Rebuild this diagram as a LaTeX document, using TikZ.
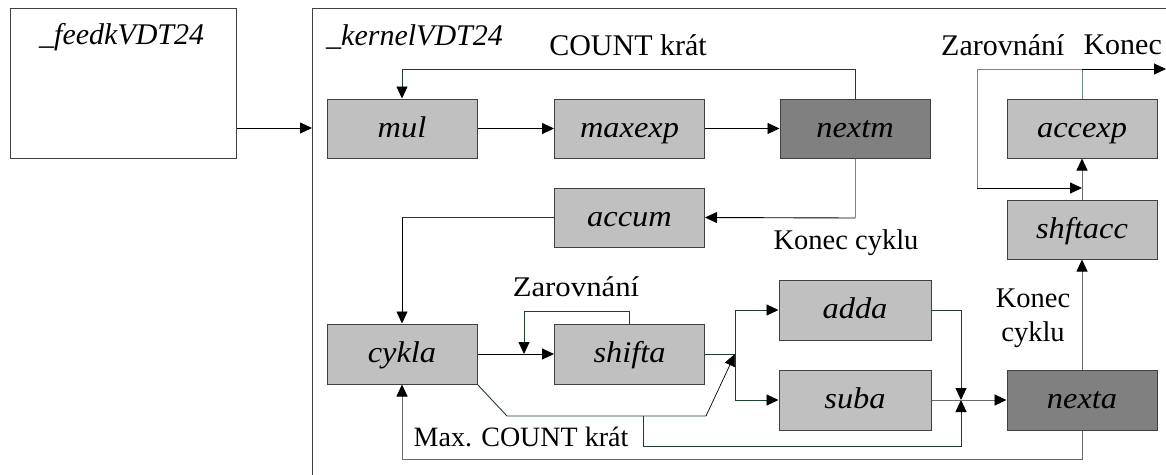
\documentclass[tikz,border=0pt]{standalone}
\usepackage{fontspec}
\setmainfont{Liberation Serif}
\newfontfamily\widefont[FakeStretch=1.08]{Liberation Serif}
\usetikzlibrary{arrows.meta}
\definecolor{boxline}{HTML}{404040}
\definecolor{lightfill}{HTML}{C0C0C0}
\definecolor{darkfill}{HTML}{808080}
\definecolor{darkgreen}{HTML}{1E3F2A}
\definecolor{sage}{HTML}{6F8F7D}
\definecolor{wire}{HTML}{6A6A6A}
\tikzset{
  block/.style={draw=boxline, line width=1pt, fill=lightfill, minimum width=150pt,
    minimum height=59pt, inner sep=0pt, text height=19pt, text depth=2pt,
    font=\widefont\fontsize{30}{32}\selectfont\itshape},
  hotblock/.style={block, fill=darkfill},
  lbl/.style={inner sep=0pt, font=\fontsize{28.5}{34}\selectfont},
  biglbl/.style={inner sep=0pt, font=\fontsize{30}{32}\selectfont},
  title/.style={inner sep=0pt, anchor=west, font=\fontsize{30}{32}\selectfont\itshape},
  link/.style={line width=0.9pt},
  tip/.style={-{Triangle[length=12pt,width=11pt,color=black]}},
}
\begin{document}
\begin{tikzpicture}[x=1pt, y=-1pt]
\useasboundingbox (0,0) rectangle (1166,474);
\clip (0,0) rectangle (1166,474);
\fill[white] (0,0) rectangle (1166,474);

% outer frames
\node[draw=boxline, line width=1pt, minimum width=226pt, minimum height=150pt, inner sep=0pt] (feed) at (123,83) {};
\draw[boxline, line width=1pt] (312,490) -- (312,8) -- (1180,8);
\coordinate (kin) at (312,128);
\node[title] (feedlbl) at (39,37) {\_feedkVDT24};
\node[title] (kernlbl) at (326,37) {\_kernelVDT24};

% blocks
\node[block] (mul) at (402,128.5) {mul};
\node[block] (maxexp) at (629.5,128.5) {maxexp};
\node[hotblock] (nextm) at (855,128.5) {nextm};
\node[block] (accexp) at (1082,128.5) {accexp};
\node[block] (accum) at (629.5,217.5) {accum};
\node[block] (shftacc) at (1082,229.5) {shftacc};
\node[block, minimum height=60pt] (cykla) at (402,354) {cykla};
\node[block, minimum height=60pt] (shifta) at (629.5,354) {shifta};
\node[block, minimum width=152pt, minimum height=60pt] (adda) at (855,310) {adda};
\node[block, minimum width=152pt, minimum height=60pt] (suba) at (855,400) {suba};
\node[hotblock, minimum height=60pt] (nexta) at (1082,400) {nexta};

% labels
\node[biglbl] (lcount) at (628,45) {COUNT krát};
\node[biglbl, anchor=west] (lzar2) at (941,45) {Zarovnání};
\node[biglbl, anchor=east] (lend2) at (1162,45) {Konec};
\node[lbl] (lend1) at (846,243) {Konec cyklu};
\node[lbl] (lzar1) at (576,287) {\widefont Zarovnání};
\node[lbl, align=center] (lend3) at (1033,318) {Konec\\cyklu};
\node[lbl, font=\fontsize{28}{34}\selectfont] (lmax) at (521,437) {Max. COUNT krát};

% helper points
\coordinate (topL) at (402,69);
\coordinate (accBend) at (855,218);
\coordinate (shL) at (524,311);
\coordinate (J) at (735,354);
\coordinate (d1) at (507,416);
\coordinate (d2) at (706,416);
\coordinate (br) at (643,416);
\coordinate (brLow) at (643,446);
\coordinate (M) at (961,400);
\coordinate (botR) at (1082,459);
\coordinate (accTop) at (1082,69);
\coordinate (loopL) at (977,69);
\coordinate (loopIn) at (1082,188);
\coordinate (out) at (1166,69);

% data flow
\draw[link, tip] (kin -| feed.east) -- (kin);
\draw[link, tip] (mul) -- (maxexp);
\draw[link, tip] (maxexp) -- (nextm);
\draw[link, darkgreen, tip] (nextm.north) |- (topL) -- (mul.north);
\draw[link, sage] (nextm.south) -- (accBend);
\draw[link, tip] (accBend) -- (accum.east);
\draw[link, darkgreen] (accum.west) -- (accum.west -| cykla.north);
\draw[link, tip] (accum.west -| cykla.north) -- (cykla.north);
\draw[link, tip] (cykla) -- (shifta);
\draw[link, darkgreen, tip] (shifta.north) |- (shL) -- (shL |- shifta.west);
\draw[link, darkgreen] (shifta.east) -- (J);
\draw[link, darkgreen, tip] (J) |- (adda.west);
\draw[link, darkgreen, tip] (J) |- (suba.west);
\draw[link, darkgreen] (cykla.south east) -- (d1) -- (d2);
\draw[line width=0.7pt, tip] (d2) -- (J);
\draw[link, darkgreen, tip] (br) -- (brLow) -| (M);
\draw[link, darkgreen, tip] (adda.east) -| (M);
\draw[link, wire, tip] (suba.east) -- (nexta.west);
\draw[link, wire, tip] (nexta.south) -- (botR) -| (cykla.south);
\draw[link, wire, tip] (nexta.north) -- (shftacc.south);
\draw[link, wire, tip] (shftacc.north) -- (accexp.south);
\draw[link, sage] (accexp.north) -- (accTop) -- (loopL) -- (loopL |- loopIn);
\draw[link, tip] (loopL |- loopIn) -- (loopIn);
\draw[link, tip] (accTop) -- (out);
\end{tikzpicture}
\end{document}
